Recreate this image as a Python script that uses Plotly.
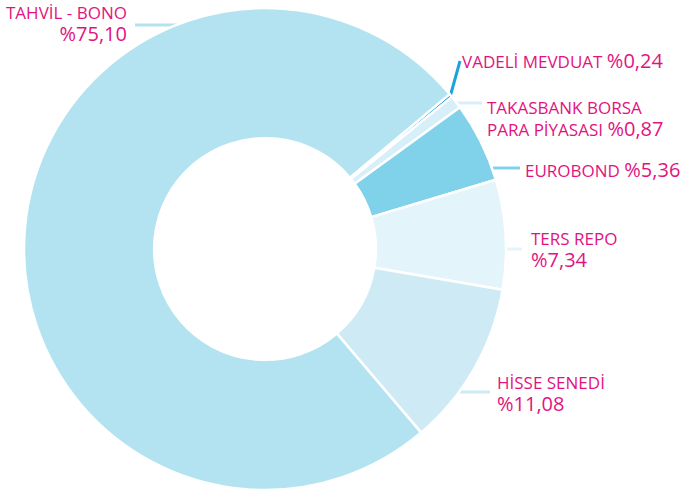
import plotly.graph_objects as go

W, H = 682, 491

categories = ["VADELİ MEVDUAT", "TAKASBANK BORSA PARA PİYASASI", "EUROBOND",
              "TERS REPO", "HİSSE SENEDİ", "TAHVİL - BONO"]
values = [0.24, 0.87, 5.36, 7.34, 11.08, 75.10]
value_labels = ["%0,24", "%0,87", "%5,36", "%7,34", "%11,08", "%75,10"]
colors = ["#1ba3da", "#d6eff8", "#80d1ea", "#e3f4fa", "#cdeaf5", "#b3e3f1"]

MAG = "#e2137f"
FONT = "Open Sans"

def px(x):
    return x / W

def py(y):
    return 1 - y / H

fig = go.Figure()
fig.add_trace(go.Pie(
    labels=categories, values=values, hole=0.46, sort=False,
    direction="clockwise", rotation=50,
    marker=dict(colors=colors, line=dict(color="white", width=2.5)),
    textinfo="none", hoverinfo="label+value", showlegend=False,
    domain=dict(x=[px(24), px(506)], y=[py(490), py(8)]),
))

lines = [
    ((135, 25), (185, 25), colors[5]),
    ((450, 97), (460, 61), colors[0]),
    ((455, 103), (482, 103), colors[1]),
    ((493, 168), (520, 168), colors[2]),
    ((505, 249), (522, 249), colors[3]),
    ((460, 392), (490, 392), colors[4]),
]
shapes = []
for (x0, y0), (x1, y1), c in lines:
    shapes.append(dict(type="line", xref="paper", yref="paper",
                       x0=px(x0), y0=py(y0), x1=px(x1), y1=py(y1),
                       line=dict(color=c, width=3), layer="below"))

NS = 17
VS = 20

def ann(text, x, y, anchor="left", size=NS):
    return dict(text=text, x=px(x), y=py(y), xref="paper", yref="paper",
                xanchor=anchor, yanchor="middle", showarrow=False, align=anchor,
                font=dict(family=FONT, size=size, color=MAG))

def big(val):
    return f"<span style='font-size:{VS}px'>{val}</span>"

annotations = [
    ann(categories[5] + "<br>" + big(value_labels[5]), 129, 24, "right"),
    ann(categories[0] + " " + big(value_labels[0]), 460, 61),
    ann("TAKASBANK BORSA<br>PARA PİYASASI " + big(value_labels[1]), 485, 119),
    ann(categories[2] + " " + big(value_labels[2]), 523, 169),
    ann(categories[3] + "<br>" + big(value_labels[3]), 529, 250),
    ann(categories[4] + "<br>" + big(value_labels[4]), 495, 394),
]

fig.update_layout(
    width=W, height=H, margin=dict(l=0, r=0, t=0, b=0),
    paper_bgcolor="white", plot_bgcolor="white",
    shapes=shapes, annotations=annotations,
)

fig.write_html("out.html", config={"displayModeBar": False},
               post_script="document.body.style.margin='0';document.body.style.padding='0';")
